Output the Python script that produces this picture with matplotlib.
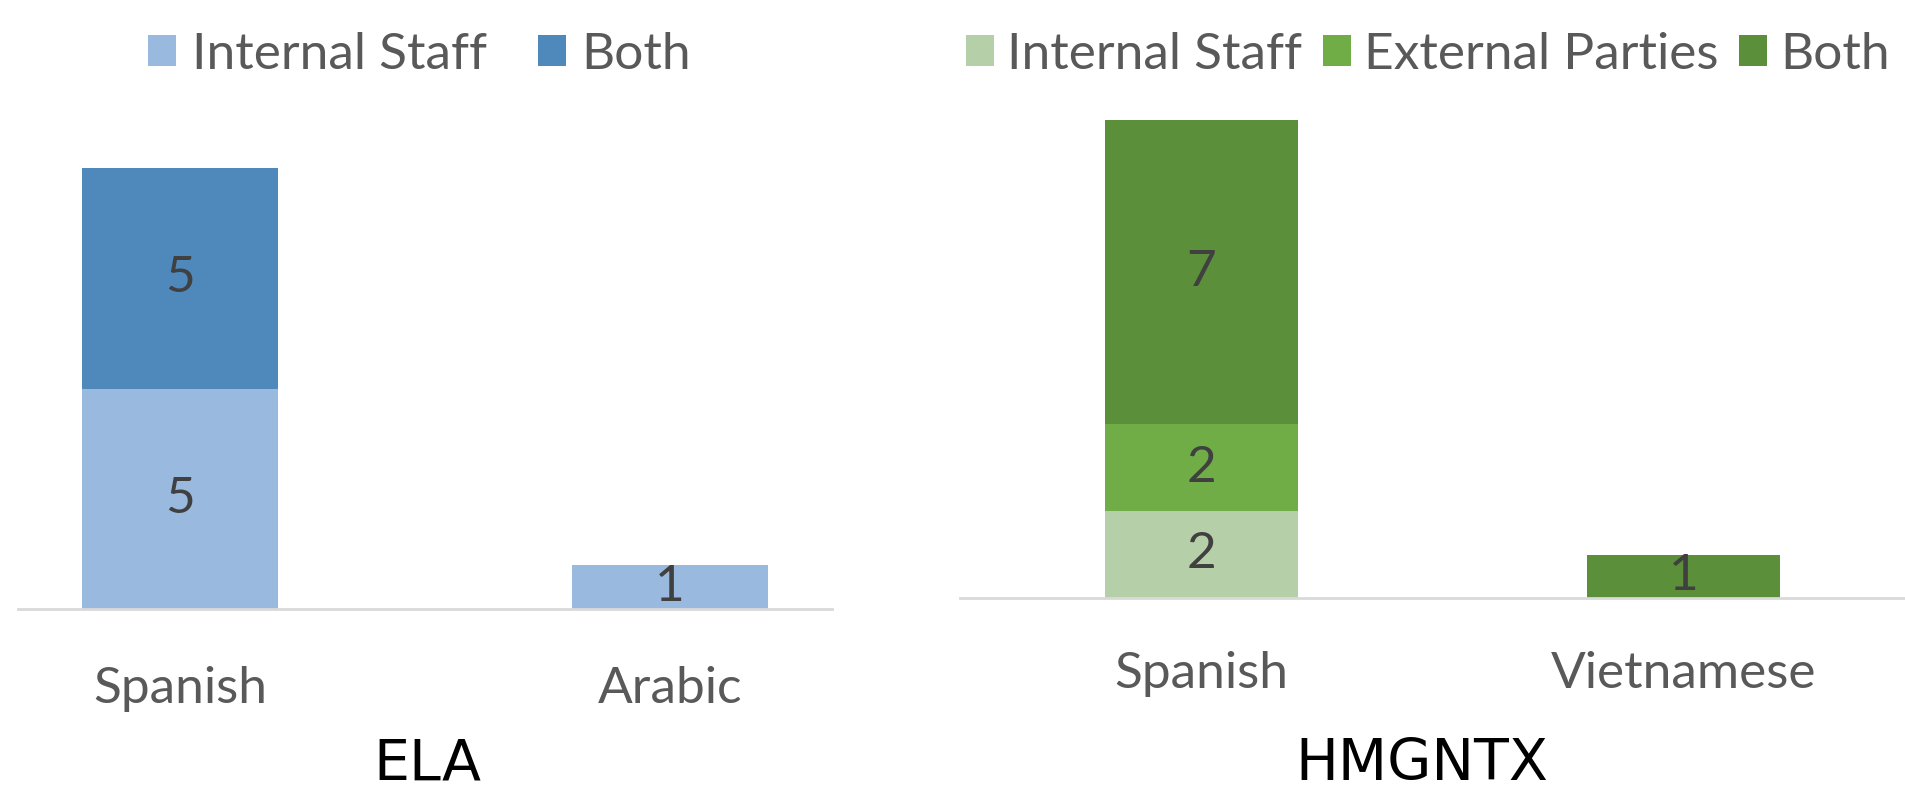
import matplotlib
matplotlib.use('Agg')
import matplotlib.pyplot as plt
import numpy as np

# ELA panel
elaLanguages = ['Spanish', 'Arabic']
elaSeries = ['Internal Staff', 'Both']
elaInternal = [5, 1]
elaBoth = [5, 0]

# HMGNTX panel
hmgLanguages = ['Spanish', 'Vietnamese']
hmgSeries = ['Internal Staff', 'External Parties', 'Both']
hmgInternal = [2, 0]
hmgExternal = [2, 0]
hmgBoth = [7, 1]

plt.rcParams['font.family'] = ['Lato', 'DejaVu Sans']

TEXT_GRAY = '#595959'
LABEL_GRAY = '#404040'
FONT_SIZE = 37


def DrawStacked(axes, categories, seriesNames, seriesValues, colors, xlim, pad):

    x = np.arange(len(categories))
    bottom = np.zeros(len(categories))
    for name, values, color in zip(seriesNames, seriesValues, colors):
        values = np.array(values, dtype=float)
        bars = axes.bar(x, values, 0.4, bottom=bottom, color=color, label=name)
        for bar, value, base in zip(bars, values, bottom):
            if value > 0:
                axes.text(bar.get_x() + bar.get_width() / 2, base + value / 2,
                          str(int(value)), ha='center', va='center',
                          fontsize=FONT_SIZE, color=LABEL_GRAY)
        bottom = bottom + values

    axes.set_xticks(x)
    axes.set_xticklabels(categories, fontsize=FONT_SIZE, color=TEXT_GRAY)
    axes.tick_params(axis='x', length=0, pad=pad)
    axes.set_yticks([])
    axes.set_xlim(*xlim)
    axes.set_ylim(0, 12)
    for side in ['top', 'right', 'left']:
        axes.spines[side].set_visible(False)
    axes.spines['bottom'].set_color('#d9d9d9')
    axes.spines['bottom'].set_linewidth(2)


figure = plt.figure(figsize=(19.05, 7.94), dpi=100)

leftAxes = figure.add_axes([18 / 1905, 1 - 609 / 794, 814 / 1905, 529 / 794])
DrawStacked(leftAxes, elaLanguages, elaSeries, [elaInternal, elaBoth],
            ['#99b9df', '#4f89bc'], (-0.33, 1.33), 41)

rightAxes = figure.add_axes([960 / 1905, 1 - 598 / 794, 945 / 1905, 522 / 794])
DrawStacked(rightAxes, hmgLanguages, hmgSeries, [hmgInternal, hmgExternal, hmgBoth],
            ['#b5d0a8', '#70ad47', '#5b8f3a'], (-0.5, 1.46), 38)

legendStyle = dict(loc='center left', frameon=False, fontsize=FONT_SIZE, ncol=3,
                   handlelength=0.55, handleheight=0.55,
                   borderaxespad=0, borderpad=0, labelcolor=TEXT_GRAY)
leftAxes.legend(bbox_to_anchor=(148 / 1905, 1 - 55 / 794), columnspacing=1.0,
                handletextpad=0.3, bbox_transform=figure.transFigure, **legendStyle)
rightAxes.legend(bbox_to_anchor=(966 / 1905, 1 - 55 / 794), columnspacing=0.4,
                 handletextpad=0.25, bbox_transform=figure.transFigure, **legendStyle)

figure.text(427 / 1905, 1 - 780 / 794, 'ELA', ha='center', va='baseline',
            fontsize=41, color='black', family=['DejaVu Sans'])
figure.text(1422 / 1905, 1 - 780 / 794, 'HMGNTX', ha='center', va='baseline',
            fontsize=41, color='black', family=['DejaVu Sans'])

figure.savefig('out.png', dpi=100)
plt.close(figure)
